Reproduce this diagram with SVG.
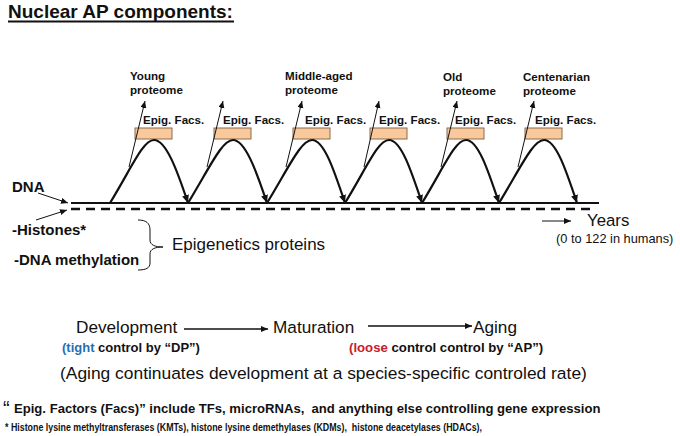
<svg xmlns="http://www.w3.org/2000/svg" width="680" height="436" viewBox="0 0 680 436">
<defs>
<style>
text{font-family:"Liberation Sans",Arial,sans-serif;fill:#111}
.b{font-weight:bold}
.lab{font-size:11.6px;font-weight:bold}
.hump{fill:none;stroke:#111;stroke-width:2.2}
.thin{fill:none;stroke:#111;stroke-width:1}
.box{fill:#F9C99C;stroke:#8A6A4C;stroke-width:1}
.ar{fill:none;stroke:#111;stroke-width:1.3}
</style>
<marker id="mh" markerUnits="userSpaceOnUse" markerWidth="10" markerHeight="8" refX="8" refY="3.5" orient="auto"><path d="M0,0 L8,3.5 L0,7 z" fill="#111"/></marker>
<marker id="mt" markerUnits="userSpaceOnUse" markerWidth="8" markerHeight="7" refX="7" refY="3" orient="auto"><path d="M0,0 L7,3 L0,6 z" fill="#111"/></marker>
</defs>
<rect width="680" height="436" fill="#fff"/>

<g id="title">
<text x="8" y="18" class="b" font-size="19">Nuclear AP components:</text>
<line x1="8" y1="21.5" x2="234" y2="21.5" stroke="#111" stroke-width="1.8"/>
</g>

<g id="dna-strand">
<line x1="71" y1="203" x2="599" y2="203" stroke="#111" stroke-width="2.2"/>
<line x1="71" y1="209" x2="596" y2="209" stroke="#111" stroke-width="2.4" stroke-dasharray="9 6"/>
</g>

<g id="cycle1">
<rect class="box" x="135" y="128" width="37" height="11"/>
<text class="lab" x="143" y="124">Epig. Facs.</text>
<text class="lab" x="130" y="80">Young</text>
<text class="lab" x="130" y="94">proteome</text>
</g>
<g id="cycle2">
<rect class="box" x="214" y="128" width="37" height="11"/>
<text class="lab" x="223" y="124">Epig. Facs.</text>
</g>
<g id="cycle3">
<rect class="box" x="293" y="128" width="37" height="11"/>
<text class="lab" x="305" y="124">Epig. Facs.</text>
<text class="lab" x="285" y="80">Middle-aged</text>
<text class="lab" x="285" y="94">proteome</text>
</g>
<g id="cycle4">
<rect class="box" x="370" y="128" width="37" height="11"/>
<text class="lab" x="379" y="124">Epig. Facs.</text>
</g>
<g id="cycle5">
<rect class="box" x="447" y="128" width="37" height="11"/>
<text class="lab" x="455" y="124">Epig. Facs.</text>
<text class="lab" x="443" y="81">Old</text>
<text class="lab" x="443" y="95">proteome</text>
</g>
<g id="cycle6">
<rect class="box" x="525" y="128" width="37" height="11"/>
<text class="lab" x="535" y="124">Epig. Facs.</text>
<text class="lab" x="523" y="81">Centenarian</text>
<text class="lab" x="523" y="95">proteome</text>
</g>

<g id="labels-left">
<text x="12" y="192" class="b" font-size="15">DNA</text>
<text x="12" y="235" class="b" font-size="15">-Histones*</text>
<text x="14" y="265" class="b" font-size="15">-DNA methylation</text>
<text x="172" y="250" font-size="17">Epigenetics proteins</text>
</g>

<g id="years">
<text x="587" y="226" font-size="16.8">Years</text>
<text x="556" y="243" font-size="12.8">(0 to 122 in humans)</text>
</g>

<g id="stages">
<text x="76" y="333" font-size="17.2">Development</text>
<text x="273" y="333" font-size="17.2">Maturation</text>
<text x="473" y="333" font-size="17.2">Aging</text>
<text x="62" y="352" class="b" font-size="13"><tspan fill="#1F6FB8">(tight</tspan> control by “DP”)</text>
<text x="349" y="352" class="b" font-size="13.2"><tspan fill="#C8202A">(loose</tspan> control control by “AP”)</text>
<text x="60" y="379" font-size="17.4">(Aging continuates development at a species-specific controled rate)</text>
</g>

<g id="footnotes">
<text x="3" y="415" font-size="20">“</text>
<text x="14" y="413" class="b" font-size="13.1" xml:space="preserve">Epig. Factors (Facs)” include TFs, microRNAs,  and anything else controlling gene expression</text>
<text x="5" y="431" class="b" font-size="11" textLength="477" lengthAdjust="spacingAndGlyphs" xml:space="preserve">* Histone lysine methyltransferases (KMTs), histone lysine demethylases (KDMs),  histone deacetylases (HDACs),</text>
</g>

<g id="connectors">
<path class="hump" marker-end="url(#mh)" d="M110,203 C132,167 143,140 154,140 C166,140 177,170 188,203"/>
<path class="hump" marker-end="url(#mh)" d="M188,203 C210,167 222,140 233,140 C245,140 256,170 267,203"/>
<path class="hump" marker-end="url(#mh)" d="M267,203 C289,167 301,140 312,140 C324,140 334,170 345,203"/>
<path class="hump" marker-end="url(#mh)" d="M345,203 C367,167 378,140 389,140 C401,140 411,170 422,203"/>
<path class="hump" marker-end="url(#mh)" d="M422,203 C444,167 455,140 466,140 C478,140 488,170 499,203"/>
<path class="hump" marker-end="url(#mh)" d="M499,203 C521,167 533,140 544,140 C556,140 566,170 577,203"/>
<line class="thin" marker-end="url(#mt)" x1="129" y1="167" x2="145" y2="101"/>
<line class="thin" marker-end="url(#mt)" x1="207" y1="167" x2="223" y2="101"/>
<line class="thin" marker-end="url(#mt)" x1="286" y1="167" x2="302" y2="101"/>
<line class="thin" marker-end="url(#mt)" x1="364" y1="167" x2="379" y2="101"/>
<line class="thin" marker-end="url(#mt)" x1="441" y1="167" x2="457" y2="101"/>
<line class="thin" marker-end="url(#mt)" x1="518" y1="167" x2="534" y2="101"/>
<line class="thin" marker-end="url(#mt)" x1="38" y1="193" x2="68" y2="203"/>
<line class="thin" marker-end="url(#mt)" x1="36" y1="220" x2="67" y2="210"/>
<line class="thin" marker-end="url(#mt)" x1="542" y1="221" x2="571" y2="221"/>
<line class="ar" marker-end="url(#mt)" x1="184" y1="329" x2="268" y2="329"/>
<line class="ar" marker-end="url(#mt)" x1="368" y1="326" x2="472" y2="326"/>
<path class="thin" stroke-width="1.3" d="M138,220 C146,220 150,223 150,230 L150,240 C150,245 155,247 163,247 C155,247 150,249 150,254 L150,263 C150,268 146,270 138,270"/>
</g>
</svg>
